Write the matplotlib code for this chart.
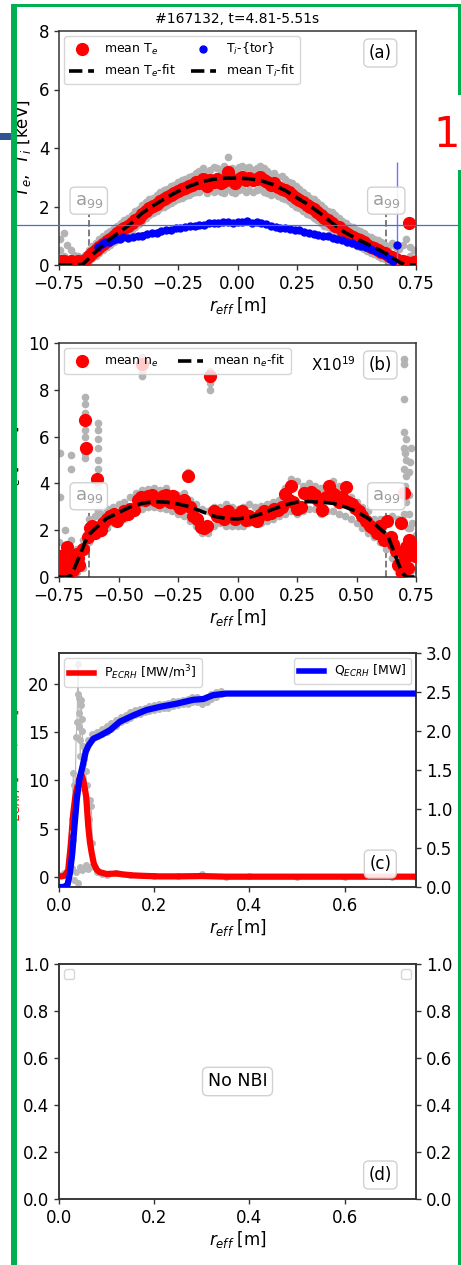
import matplotlib
matplotlib.use("Agg")
import matplotlib.pyplot as plt
from matplotlib.patches import Rectangle
from matplotlib.lines import Line2D

# ---------------- data ----------------
shot_title = "#167132, t=4.81-5.51s"
a99 = 0.625

# (a) electron temperature, mean profile
te_r = [-0.745, -0.73, -0.715, -0.70, -0.685, -0.67, -0.655, -0.64, -0.625, -0.61,
        -0.595, -0.58, -0.565, -0.55, -0.535, -0.52, -0.505, -0.49, -0.475, -0.46,
        -0.445, -0.43, -0.415, -0.40, -0.385, -0.37, -0.355, -0.34, -0.325, -0.31,
        -0.295, -0.28, -0.265, -0.25, -0.235, -0.22, -0.205, -0.19, -0.175, -0.16,
        -0.145, -0.13, -0.115, -0.10, -0.085, -0.07, -0.055, -0.04, -0.025, -0.01,
        0.005, 0.02, 0.035, 0.05, 0.065, 0.08, 0.095, 0.11, 0.125, 0.14,
        0.155, 0.17, 0.185, 0.20, 0.215, 0.23, 0.245, 0.26, 0.275, 0.29,
        0.305, 0.32, 0.335, 0.35, 0.365, 0.38, 0.395, 0.41, 0.425, 0.44,
        0.455, 0.47, 0.485, 0.50, 0.515, 0.53, 0.545, 0.56, 0.575, 0.59,
        0.605, 0.62, 0.635, 0.65, 0.665, 0.68, 0.695, 0.71, 0.725, 0.74, 0.72]
te_mean = [0.15, 0.12, 0.10, 0.14, 0.10, 0.12, 0.08, 0.18, 0.30, 0.42,
           0.50, 0.62, 0.72, 0.82, 0.90, 1.00, 1.08, 1.18, 1.26, 1.34,
           1.45, 1.55, 1.62, 1.75, 1.85, 1.95, 2.02, 2.10, 2.20, 2.25,
           2.32, 2.40, 2.45, 2.52, 2.60, 2.62, 2.70, 2.75, 2.85, 2.82,
           2.95, 2.70, 2.90, 2.85, 2.95, 2.80, 2.88, 3.18, 2.90, 2.82,
           2.95, 3.00, 2.92, 2.98, 2.90, 2.95, 3.02, 2.90, 2.85, 2.75,
           2.82, 2.65, 2.60, 2.55, 2.48, 2.40, 2.30, 2.22, 2.15, 2.05,
           1.98, 1.90, 1.82, 1.72, 1.62, 1.55, 1.45, 1.35, 1.30, 1.20,
           1.10, 1.02, 0.95, 0.88, 0.85, 0.78, 0.70, 0.62, 0.58, 0.52,
           0.45, 0.40, 0.32, 0.28, 0.20, 0.15, 0.12, 0.10, 0.08, 0.10, 1.43]
# raw Te samples (upper and lower spread), at the first 100 radii above
te_raw_hi = [0.9, 1.1, 0.7, 0.5, 0.35, 0.3, 0.25, 0.35, 0.5, 0.65,
             0.75, 0.9, 1.0, 1.1, 1.15, 1.25, 1.35, 1.45, 1.55, 1.6,
             1.7, 1.85, 1.9, 2.05, 2.15, 2.25, 2.3, 2.4, 2.5, 2.55,
             2.6, 2.7, 2.75, 2.85, 2.9, 2.95, 3.0, 3.05, 3.15, 3.2,
             3.3, 3.1, 3.25, 3.35, 3.3, 3.2, 3.4, 3.7, 3.3, 3.2,
             3.35, 3.4, 3.3, 3.35, 3.25, 3.3, 3.4, 3.3, 3.2, 3.1,
             3.15, 3.0, 3.05, 2.95, 2.85, 2.8, 2.7, 2.6, 2.5, 2.4,
             2.3, 2.25, 2.15, 2.05, 1.95, 1.85, 1.8, 1.7, 1.6, 1.5,
             1.45, 1.35, 1.3, 1.2, 1.15, 1.1, 1.0, 0.95, 0.9, 0.85,
             0.8, 0.7, 0.65, 0.75, 0.6, 0.55, 0.7, 0.9, 0.6, 0.5]
te_raw_lo = [0.5, 0.3, 0.05, 0.02, 0.02, 0.05, 0.02, 0.05, 0.12, 0.25,
             0.32, 0.42, 0.5, 0.62, 0.7, 0.78, 0.85, 0.95, 1.05, 1.12,
             1.2, 1.3, 1.4, 1.5, 1.6, 1.7, 1.78, 1.85, 1.95, 2.0,
             2.05, 2.12, 2.2, 2.25, 2.3, 2.35, 2.4, 2.45, 2.5, 2.5,
             2.6, 2.45, 2.55, 2.5, 2.55, 2.5, 2.45, 2.6, 2.5, 2.45,
             2.55, 2.6, 2.5, 2.55, 2.5, 2.55, 2.6, 2.5, 2.45, 2.4,
             2.45, 2.35, 2.3, 2.25, 2.2, 2.1, 2.0, 1.95, 1.85, 1.75,
             1.7, 1.6, 1.55, 1.45, 1.35, 1.3, 1.2, 1.1, 1.05, 0.95,
             0.85, 0.8, 0.72, 0.65, 0.6, 0.55, 0.48, 0.4, 0.38, 0.3,
             0.25, 0.2, 0.15, 0.1, 0.08, 0.05, 0.05, 0.02, 0.3, 0.25]
te_fit_r = [-0.75, -0.70, -0.65, -0.60, -0.55, -0.50, -0.45, -0.40, -0.35, -0.30,
            -0.25, -0.20, -0.15, -0.10, -0.05, 0.0, 0.05, 0.10, 0.15, 0.20,
            0.25, 0.30, 0.35, 0.40, 0.45, 0.50, 0.55, 0.60, 0.65, 0.68, 0.70, 0.75]
te_fit = [0.0, 0.0, 0.02, 0.42, 0.8, 1.1, 1.4, 1.78, 2.05, 2.3,
          2.52, 2.7, 2.85, 2.93, 2.97, 2.97, 2.95, 2.88, 2.75, 2.55,
          2.3, 2.05, 1.75, 1.42, 1.12, 0.9, 0.7, 0.5, 0.25, 0.1, 0.02, 0.0]

# (a) ion temperature from toroidal CXRS
ti_r = [-0.585, -0.57, -0.555, -0.54, -0.525, -0.51, -0.495, -0.48, -0.46, -0.44,
        -0.42, -0.40, -0.38, -0.36, -0.34, -0.32, -0.30, -0.28, -0.26, -0.24,
        -0.22, -0.20, -0.18, -0.16, -0.14, -0.12, -0.10, -0.08, -0.06, -0.04,
        -0.02, 0.0, 0.02, 0.04, 0.06, 0.08, 0.10, 0.12, 0.14, 0.16,
        0.18, 0.20, 0.22, 0.24, 0.26, 0.28, 0.30, 0.32, 0.34, 0.36,
        0.38, 0.40, 0.42, 0.44, 0.46, 0.48, 0.50, 0.52, 0.54, 0.56,
        0.58, 0.60, 0.62, 0.64, 0.655, 0.67]
ti_val = [0.62, 0.72, 0.80, 0.78, 0.86, 0.90, 0.88, 0.95, 0.93, 0.97,
          1.00, 0.98, 1.05, 1.10, 1.08, 1.15, 1.20, 1.18, 1.25, 1.28,
          1.30, 1.32, 1.35, 1.38, 1.36, 1.42, 1.45, 1.42, 1.48, 1.46,
          1.45, 1.48, 1.47, 1.50, 1.45, 1.47, 1.42, 1.40, 1.35, 1.30,
          1.28, 1.25, 1.22, 1.18, 1.20, 1.12, 1.10, 1.05, 1.02, 1.00,
          0.98, 0.92, 0.88, 0.85, 0.80, 0.75, 0.70, 0.65, 0.60, 0.55,
          0.48, 0.42, 0.34, 0.22, 0.12, 0.68]
ti_err = [0.04, 0.04, 0.04, 0.04, 0.04, 0.04, 0.04, 0.04, 0.04, 0.04,
          0.04, 0.04, 0.04, 0.04, 0.04, 0.04, 0.04, 0.04, 0.04, 0.04,
          0.04, 0.04, 0.04, 0.04, 0.04, 0.04, 0.04, 0.04, 0.04, 0.04,
          0.04, 0.04, 0.04, 0.04, 0.04, 0.04, 0.04, 0.04, 0.04, 0.04,
          0.04, 0.04, 0.04, 0.04, 0.04, 0.04, 0.04, 0.04, 0.04, 0.04,
          0.04, 0.04, 0.04, 0.04, 0.04, 0.04, 0.04, 0.04, 0.04, 0.04,
          0.04, 0.04, 0.04, 0.04, 0.04, 2.85]
ti_fit_r = [-0.585, -0.5, -0.4, -0.3, -0.2, -0.1, 0.0, 0.1, 0.2, 0.3, 0.4, 0.5, 0.6, 0.67]
ti_fit = [0.65, 0.9, 1.05, 1.2, 1.32, 1.42, 1.46, 1.42, 1.27, 1.1, 0.92, 0.7, 0.42, 0.1]

# (b) electron density
ne_r = [-0.745, -0.74, -0.735, -0.73, -0.72, -0.715, -0.71, -0.70, -0.695, -0.69, -0.68, -0.675, -0.67, -0.665,
        -0.65, -0.64, -0.635, -0.63, -0.62, -0.61, -0.60, -0.59, -0.585, -0.575,
        -0.565, -0.55, -0.535, -0.52, -0.505, -0.49, -0.475, -0.46, -0.45, -0.435,
        -0.42, -0.405, -0.40, -0.39, -0.375, -0.36, -0.345, -0.33, -0.315, -0.30,
        -0.285, -0.27, -0.255, -0.24, -0.225, -0.21, -0.20, -0.185, -0.17, -0.155,
        -0.14, -0.13, -0.115, -0.10, -0.085, -0.07, -0.055, -0.04, -0.025, -0.01,
        0.005, 0.02, 0.035, 0.05, 0.065, 0.08, 0.095, 0.11, 0.125, 0.14,
        0.155, 0.17, 0.185, 0.20, 0.215, 0.225, 0.235, 0.25, 0.265, 0.28,
        0.295, 0.31, 0.325, 0.34, 0.355, 0.37, 0.385, 0.395, 0.41, 0.425,
        0.44, 0.455, 0.465, 0.48, 0.495, 0.51, 0.525, 0.54, 0.555, 0.57,
        0.585, 0.60, 0.615, 0.63, 0.645, 0.655, 0.665, 0.675, 0.685, 0.69,
        0.70, 0.705, 0.71, 0.715, 0.72, 0.725, 0.735, 0.745]
ne_mean = [0.9, 0.6, 0.3, 0.85, 0.5, 1.3, 0.7, 0.4, 0.9, 0.3, 0.6, 1.0, 0.8, 0.5,
           1.2, 6.7, 5.5, 1.7, 2.1, 2.2, 1.9, 4.2, 2.1, 2.0,
           2.3, 2.5, 2.6, 2.7, 2.4, 2.6, 2.8, 2.7, 2.9, 2.85,
           3.3, 3.4, 9.1, 3.3, 3.45, 3.5, 3.3, 3.2, 3.45, 3.5,
           3.2, 3.45, 3.1, 2.95, 3.3, 4.3, 3.0, 2.6, 2.5, 2.15,
           2.1, 2.2, 8.6, 2.8, 2.6, 2.7, 2.5, 2.8, 2.6, 2.5,
           2.7, 2.8, 2.45, 2.6, 2.5, 2.4, 2.65, 2.8, 2.7, 2.75,
           2.9, 2.85, 3.0, 3.55, 3.3, 3.9, 3.2, 2.9, 3.0, 3.6,
           3.55, 3.65, 3.5, 3.3, 2.85, 3.4, 3.9, 3.6, 3.5, 3.2,
           3.4, 3.85, 3.2, 3.1, 2.95, 2.8, 2.6, 2.4, 2.2, 2.1,
           1.9, 2.2, 1.6, 2.4, 1.7, 1.4, 1.1, 0.5, 2.3, 0.15,
           3.6, 0.8, 1.3, 0.4, 1.6, 1.0, 1.4, 0.9]
ne_raw_r = [-0.75, -0.725, -0.70, -0.675, -0.65, -0.625, -0.60, -0.575, -0.55, -0.525,
            -0.50, -0.475, -0.45, -0.425, -0.40, -0.375, -0.35, -0.325, -0.30, -0.275,
            -0.25, -0.225, -0.20, -0.175, -0.15, -0.125, -0.10, -0.075, -0.05, -0.025,
            0.0, 0.025, 0.05, 0.075, 0.10, 0.125, 0.15, 0.175, 0.20, 0.225,
            0.25, 0.275, 0.30, 0.325, 0.35, 0.375, 0.40, 0.425, 0.45, 0.475,
            0.50, 0.525, 0.55, 0.575, 0.60, 0.625, 0.65, 0.675, 0.70, 0.725, 0.75]
ne_raw_hi = [1.5, 2.0, 1.6, 1.2, 1.6, 2.5, 2.6, 2.7, 2.9, 3.0,
             3.1, 3.2, 3.4, 3.6, 3.7, 3.75, 3.8, 3.7, 3.8, 3.6,
             3.5, 3.6, 3.3, 3.1, 2.9, 2.8, 3.0, 3.0, 3.1, 3.0,
             2.9, 3.0, 3.1, 3.0, 3.05, 3.1, 3.2, 3.3, 3.8, 4.2,
             4.1, 3.9, 4.0, 3.9, 3.8, 3.9, 4.1, 3.9, 3.8, 3.4,
             3.2, 3.0, 2.8, 2.5, 2.5, 2.4, 2.6, 2.5, 2.7, 2.1, 1.8]
ne_raw_lo = [0.1, 0.3, 0.1, 0.2, 0.4, 1.5, 1.8, 1.9, 2.1, 2.3,
             2.4, 2.5, 2.7, 2.8, 2.9, 3.0, 3.0, 2.95, 2.9, 2.8,
             2.7, 2.6, 2.4, 2.2, 1.9, 1.9, 2.2, 2.3, 2.2, 2.2,
             2.2, 2.2, 2.3, 2.3, 2.3, 2.4, 2.5, 2.6, 2.7, 2.8,
             2.7, 2.8, 2.9, 2.9, 2.7, 2.8, 2.8, 2.7, 2.6, 2.5,
             2.3, 2.1, 1.9, 1.7, 1.5, 1.2, 0.8, 0.2, 0.1, 0.2, 0.3]
ne_out_r = [-0.745, -0.745, -0.70, -0.70, -0.64, -0.64, -0.64, -0.64, -0.64, -0.64, -0.64,
            -0.585, -0.585, -0.585, -0.585, -0.585, -0.585, -0.585, -0.585, -0.585,
            -0.40, -0.40, -0.40, -0.21, -0.115, -0.115, -0.115,
            0.70, 0.70, 0.70, 0.70, 0.71, 0.70, 0.705, 0.71, 0.70, 0.71, 0.705,
            0.72, 0.71, 0.72, 0.715, 0.73, 0.725, 0.72, 0.735, 0.74]
ne_out = [5.3, 3.4, 5.2, 4.6, 7.7, 7.4, 7.0, 6.3, 6.0, 5.3, 5.1,
          6.6, 6.3, 5.9, 5.5, 5.0, 4.6, 3.9, 3.3, 2.8,
          8.6, 8.8, 9.4, 4.5, 8.0, 8.3, 8.8,
          9.3, 9.1, 7.6, 6.2, 5.9, 5.5, 5.3, 5.0, 4.6, 4.3, 3.9,
          3.5, 3.2, 2.7, 2.1, 5.5, 4.9, 4.5, 2.3, 1.5]
ne_fit_r = [-0.75, -0.72, -0.70, -0.68, -0.66, -0.64, -0.62, -0.60, -0.55, -0.50,
            -0.45, -0.40, -0.35, -0.30, -0.25, -0.20, -0.15, -0.10, -0.05, 0.0,
            0.05, 0.10, 0.15, 0.20, 0.25, 0.30, 0.35, 0.40, 0.45, 0.50,
            0.55, 0.60, 0.63, 0.66, 0.69, 0.71, 0.75]
ne_fit = [0.0, 0.0, 0.05, 0.5, 1.0, 1.5, 1.85, 2.05, 2.5, 2.75,
          3.0, 3.15, 3.22, 3.2, 3.12, 3.0, 2.8, 2.6, 2.5, 2.48,
          2.55, 2.7, 2.9, 3.08, 3.2, 3.22, 3.2, 3.15, 3.0, 2.8,
          2.5, 2.05, 1.8, 1.0, 0.2, 0.0, 0.0]

# (c) ECRH power density and integrated power
p_r = [0.0, 0.005, 0.01, 0.015, 0.0195, 0.0245, 0.03, 0.034, 0.037, 0.041,
       0.044, 0.048, 0.051, 0.054, 0.057, 0.0616, 0.065, 0.0686, 0.073, 0.079,
       0.085, 0.092, 0.1, 0.11, 0.121, 0.135, 0.156, 0.18, 0.21, 0.25,
       0.3, 0.35, 0.4, 0.5, 0.6, 0.7, 0.75]
p_ecrh = [0.05, 0.05, 0.1, 0.3, 0.75, 3.2, 6.6, 8.2, 9.0, 9.8,
          10.4, 10.5, 10.0, 9.2, 8.35, 5.2, 3.6, 2.5, 1.4, 0.75,
          0.5, 0.4, 0.3, 0.32, 0.35, 0.25, 0.15, 0.1, 0.05, 0.05,
          0.08, 0.02, 0.02, 0.02, 0.02, 0.02, 0.02]
p_raw_r = [0.0, 0.01, 0.02, 0.025, 0.028, 0.03, 0.032, 0.034, 0.036, 0.038,
           0.039, 0.040, 0.041, 0.042, 0.043, 0.044, 0.045, 0.046, 0.047, 0.048,
           0.049, 0.05, 0.052, 0.054, 0.056, 0.058, 0.06, 0.062, 0.065, 0.068,
           0.07, 0.075, 0.08, 0.09, 0.1, 0.12, 0.15, 0.2, 0.25, 0.3,
           0.35, 0.4, 0.5, 0.6, 0.7, 0.75]
p_raw = [0.2, 0.4, 0.8, 2.0, 6.0, 10.8, 9.5, 9.0, 14.5, 16.0,
         19.0, 22.1, 18.5, 17.0, 15.5, 14.2, 12.5, 18.3, 17.8, 16.4,
         15.1, 13.6, 12.2, 13.2, 11.0, 9.5, 7.5, 6.0, 8.0, 7.3,
         3.5, 1.0, 0.5, 0.3, 0.2, 0.4, 0.2, 0.1, 0.1, 0.3,
         0.0, 0.1, 0.0, 0.0, 0.0, 0.0]
p_scatter_r = [0.028, 0.032, 0.036, 0.04, 0.044, 0.048, 0.052, 0.056, 0.06, 0.065]
p_scatter = [0.9, -0.3, 0.5, -0.6, 1.0, 0.7, 0.9, 1.2, 0.8, 1.0]
q_r = [0.0, 0.01, 0.018, 0.023, 0.028, 0.0325, 0.0375, 0.043, 0.05, 0.056,
       0.0616, 0.072, 0.086, 0.107, 0.128, 0.156, 0.184, 0.212, 0.247, 0.282,
       0.303, 0.324, 0.352, 0.4, 0.5, 0.6, 0.7, 0.75]
q_ecrh = [0.0, 0.0, 0.03, 0.18, 0.44, 0.78, 1.13, 1.38, 1.56, 1.73,
          1.81, 1.9, 1.94, 2.01, 2.12, 2.2, 2.27, 2.31, 2.35, 2.4,
          2.41, 2.46, 2.48, 2.48, 2.48, 2.48, 2.48, 2.48]
q_raw_r = [0.03, 0.04, 0.05, 0.06, 0.07, 0.08, 0.09, 0.1, 0.11, 0.12,
           0.13, 0.14, 0.15, 0.16, 0.17, 0.18, 0.19, 0.2, 0.21, 0.22,
           0.23, 0.24, 0.25, 0.26, 0.27, 0.28, 0.29, 0.3, 0.31, 0.32, 0.33, 0.34]
q_raw_hi = [0.7, 1.33, 1.66, 1.88, 1.96, 1.99, 2.03, 2.06, 2.1, 2.14,
            2.18, 2.21, 2.24, 2.27, 2.28, 2.3, 2.32, 2.33, 2.34, 2.35,
            2.36, 2.38, 2.39, 2.4, 2.41, 2.43, 2.43, 2.41, 2.43, 2.47, 2.5, 2.51]
q_raw_lo = [0.6, 1.26, 1.58, 1.82, 1.9, 1.93, 1.96, 1.99, 2.03, 2.07,
            2.11, 2.14, 2.17, 2.2, 2.22, 2.24, 2.26, 2.27, 2.28, 2.29,
            2.3, 2.32, 2.33, 2.34, 2.35, 2.37, 2.37, 2.35, 2.37, 2.41, 2.44, 2.47]

# ---------------- figure ----------------
W, H = 461, 1265
fig = plt.figure(figsize=(W / 100, H / 100), dpi=100)
fig.patch.set_facecolor("white")

TICK = 12
LAB = 12
LEG = 9
SPINE = "#333333"


def axes_px(left, top, right, bottom):
    return fig.add_axes([left / W, 1 - bottom / H, (right - left) / W, (bottom - top) / H])


def style(ax):
    for s in ax.spines.values():
        s.set_color(SPINE)
        s.set_linewidth(1.1)
    ax.tick_params(labelsize=TICK, color=SPINE, length=3.5, width=1.0)


def tag(ax, s, x, y):
    ax.text(x, y, s, transform=ax.transAxes, fontsize=12, ha="center", va="center",
            bbox=dict(boxstyle="round,pad=0.3", fc="white", ec="0.8", alpha=0.9), zorder=10)


def a99_marks(ax, ytop, ytext):
    for xv in (-a99, a99):
        ax.plot([xv, xv], [0, ytop], ls="--", color="0.45", lw=1.3, zorder=1)
        ax.text(xv, ytext, "a$_{99}$", fontsize=13, color="0.62", ha="center", va="center",
                bbox=dict(boxstyle="round,pad=0.25", fc="white", ec="0.8", alpha=0.9), zorder=6)


# (a) temperatures
ax_a = axes_px(59, 31, 416, 265)
style(ax_a)
ax_a.plot(te_r[:100], te_raw_hi, "o", color="0.7", ms=4.5, zorder=2)
ax_a.plot(te_r[:100], te_raw_lo, "o", color="0.7", ms=4.5, zorder=2)
ax_a.plot(te_r, te_mean, "o", color="red", ms=8.5, zorder=3, label="mean T$_e$")
ax_a.errorbar(ti_r, ti_val, yerr=ti_err, fmt="none", ecolor=(0.45, 0.45, 1.0), elinewidth=1, zorder=4)
ax_a.plot(ti_r, ti_val, "o", color="blue", ms=5, zorder=4, label="T$_i$-{tor}")
ax_a.plot(te_fit_r, te_fit, "--", color="black", lw=2.6, zorder=5, label="mean T$_e$-fit")
ax_a.plot(ti_fit_r, ti_fit, "--", color="black", lw=2.6, zorder=3.5, label="mean T$_i$-fit")
a99_marks(ax_a, 1.75, 2.2)
ax_a.set_xlim(-0.75, 0.75)
ax_a.set_ylim(0, 8)
ax_a.set_xticks([-0.75, -0.5, -0.25, 0, 0.25, 0.5, 0.75])
ax_a.set_yticks([0, 2, 4, 6, 8])
ax_a.set_xlabel("$r_{eff}$ [m]", fontsize=LAB, labelpad=2)
ax_a.set_ylabel("$T_e$,  $T_i$ [keV]", fontsize=LAB)
ax_a.set_title(shot_title, fontsize=10)
h = ax_a.get_legend_handles_labels()
order = [0, 2, 1, 3]
ax_a.legend([h[0][i] for i in order], [h[1][i] for i in order], loc="upper left", ncol=2,
            fontsize=LEG, borderaxespad=0.4, columnspacing=1.2)
tag(ax_a, "(a)", 0.9, 0.906)

# (b) density
ax_b = axes_px(59, 343, 416, 577)
style(ax_b)
ax_b.plot(ne_raw_r, ne_raw_hi, "o", color="0.7", ms=4.5, zorder=2)
ax_b.plot(ne_raw_r, ne_raw_lo, "o", color="0.7", ms=4.5, zorder=2)
ax_b.plot(ne_out_r, ne_out, "o", color="0.7", ms=4.5, zorder=2)
ax_b.plot(ne_r, ne_mean, "o", color="red", ms=8.5, zorder=3, label="mean n$_e$")
ax_b.plot(ne_fit_r, ne_fit, "--", color="black", lw=2.6, zorder=5, label="mean n$_e$-fit")
a99_marks(ax_b, 2.8, 3.45)
ax_b.set_xlim(-0.75, 0.75)
ax_b.set_ylim(0, 10)
ax_b.set_xticks([-0.75, -0.5, -0.25, 0, 0.25, 0.5, 0.75])
ax_b.set_yticks([0, 2, 4, 6, 8, 10])
ax_b.set_xlabel("$r_{eff}$ [m]", fontsize=LAB, labelpad=2)
ax_b.set_ylabel("$n_e$ [m$^{-3}$]", fontsize=LAB)
ax_b.legend(loc="upper left", ncol=2, fontsize=LEG, borderaxespad=0.4, columnspacing=1.6)
ax_b.text(0.83, 0.906, "X10$^{19}$", transform=ax_b.transAxes, fontsize=11,
          ha="right", va="center")
tag(ax_b, "(b)", 0.9, 0.906)

# (c) ECRH deposition
ax_c = axes_px(59, 653, 416, 887)
style(ax_c)
ax_c.plot(p_raw_r, p_raw, "o-", color="0.72", ms=4, lw=0.8, zorder=2)
ax_c.plot(p_scatter_r, p_scatter, "o", color="0.72", ms=4, zorder=2)
ax_c.plot(p_r, p_ecrh, "-", color="red", lw=4.5, zorder=3, solid_capstyle="round")
ax_c.set_xlim(0, 0.75)
ax_c.set_ylim(-1.05, 23.2)
ax_c.set_yticks([0, 5, 10, 15, 20])
ax_c.set_xticks([0, 0.2, 0.4, 0.6])
ax_c.set_xlabel("$r_{eff}$ [m]", fontsize=LAB, labelpad=2)
ax_c.set_ylabel("P$_{ECRH}$ [MW/m$^3$]", fontsize=LAB, color="red")
ax_c.legend([Line2D([], [], color="red", lw=4)], ["P$_{ECRH}$ [MW/m$^3$]"],
            loc="upper left", fontsize=LEG, borderaxespad=0.4)
ax_c2 = ax_c.twinx()
style(ax_c2)
ax_c2.plot(q_raw_r, q_raw_hi, "o", color="0.72", ms=4, zorder=2)
ax_c2.plot(q_raw_r, q_raw_lo, "o", color="0.72", ms=4, zorder=2)
ax_c2.plot(q_r, q_ecrh, "-", color="blue", lw=4.5, zorder=3, solid_capstyle="round")
ax_c2.set_ylim(0, 3.0)
ax_c2.set_yticks([0, 0.5, 1.0, 1.5, 2.0, 2.5, 3.0])
ax_c2.legend([Line2D([], [], color="blue", lw=4)], ["Q$_{ECRH}$ [MW]"],
             loc="upper right", fontsize=LEG, borderaxespad=0.4)
tag(ax_c2, "(c)", 0.9, 0.098)

# (d) NBI deposition (none)
ax_d = axes_px(59, 964, 416, 1199)
style(ax_d)
ax_d.set_xlim(0, 0.75)
ax_d.set_ylim(0, 1)
ax_d.set_xticks([0, 0.2, 0.4, 0.6])
ax_d.set_xlabel("$r_{eff}$ [m]", fontsize=LAB, labelpad=2)
ax_d.legend(handles=[], loc="upper left", fontsize=LEG, borderaxespad=0.4)
ax_d.text(0.5, 0.5, "No NBI", transform=ax_d.transAxes, fontsize=12.5, ha="center", va="center",
          bbox=dict(boxstyle="round,pad=0.3", fc="white", ec="0.8", alpha=0.9))
ax_d2 = ax_d.twinx()
style(ax_d2)
ax_d2.set_ylim(0, 1)
ax_d2.legend(handles=[], loc="upper right", fontsize=LEG, borderaxespad=0.4)
tag(ax_d2, "(d)", 0.9, 0.102)

# ---------------- page frame around the figure ----------------
def rect_px(x0, y0, x1, y1, color, z):
    fig.add_artist(Rectangle((x0 / W, 1 - y1 / H), (x1 - x0) / W, (y1 - y0) / H,
                             transform=fig.transFigure, facecolor=color, edgecolor="none",
                             zorder=z))


GREEN = "#00b050"
rect_px(0, 0, 11, H, "white", 50)
rect_px(0, 0, W, 4, "white", 50)
rect_px(11, 4, 17, H, GREEN, 51)
rect_px(11, 4, W, 6.5, GREEN, 51)
rect_px(457.5, 4, W, 95, GREEN, 51)
rect_px(457.5, 170, W, H, GREEN, 51)
rect_px(0, 133, 11, 140, "#2f5597", 52)
fig.add_artist(Line2D([0, 1], [1 - 224.5 / H, 1 - 224.5 / H], transform=fig.transFigure,
                      color="#4472c4", lw=0.9, zorder=49))
fig.text(460 / W, 1 - 147 / H, "1", color="red", fontsize=30, ha="right",
         va="baseline", zorder=53)

fig.savefig("out.png", dpi=100, facecolor="white")
